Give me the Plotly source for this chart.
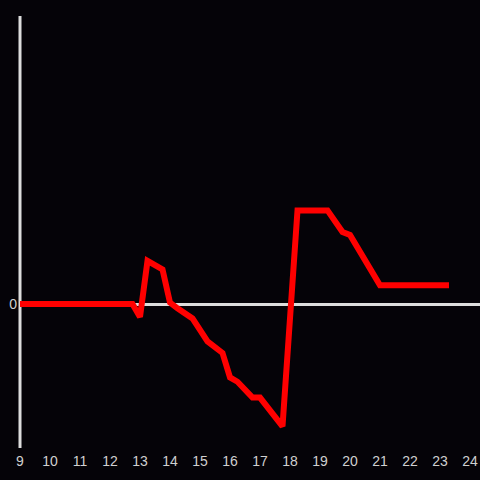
import plotly.graph_objects as go

hours = [9.0, 12.75, 13.0, 13.25, 13.75, 14.0, 14.25, 14.75, 15.25, 15.75, 16.0, 16.25,
         16.75, 17.0, 17.75, 18.25, 19.25, 19.75, 20.0, 21.0, 23.3]
values = [0.0, 0.0, -0.09, 0.30, 0.24, 0.01, -0.03, -0.10, -0.26, -0.34, -0.51, -0.54,
          -0.65, -0.65, -0.85, 0.65, 0.65, 0.50, 0.48, 0.13, 0.13]
x_ticks = list(range(9, 25))

fig = go.Figure()
fig.add_trace(go.Scatter(x=hours, y=values, mode="lines",
                         line=dict(color="#ff0000", width=6), hoverinfo="skip"))

bg = "#050308"
fig.update_layout(
    width=480, height=480,
    paper_bgcolor=bg, plot_bgcolor=bg,
    margin=dict(l=20, r=0, t=16, b=32),
    showlegend=False,
    font=dict(family="Liberation Sans, Arial, sans-serif", size=14, color="#d0d0d0"),
    xaxis=dict(range=[9, 9 + 460 / 30], tickvals=x_ticks, ticktext=[str(t) for t in x_ticks],
               showgrid=False, zeroline=False, showline=False, ticks="",
               ticklabelstandoff=3, tickfont=dict(color="#d0d0d0", size=14)),
    yaxis=dict(range=[-1, 2], tickvals=[0], ticktext=["0"], showgrid=False,
               zeroline=True, zerolinecolor="#dddddd", zerolinewidth=3,
               showline=False, ticks="", ticklabelstandoff=2,
               tickfont=dict(color="#d0d0d0", size=14)),
)
fig.add_shape(type="line", xref="paper", yref="paper", x0=0, x1=0, y0=0, y1=1,
              line=dict(color="#dddddd", width=3), layer="below")

fig.write_html("out.html", config={"displayModeBar": False},
               post_script="document.body.style.margin='0';document.body.style.background='#050308';")
